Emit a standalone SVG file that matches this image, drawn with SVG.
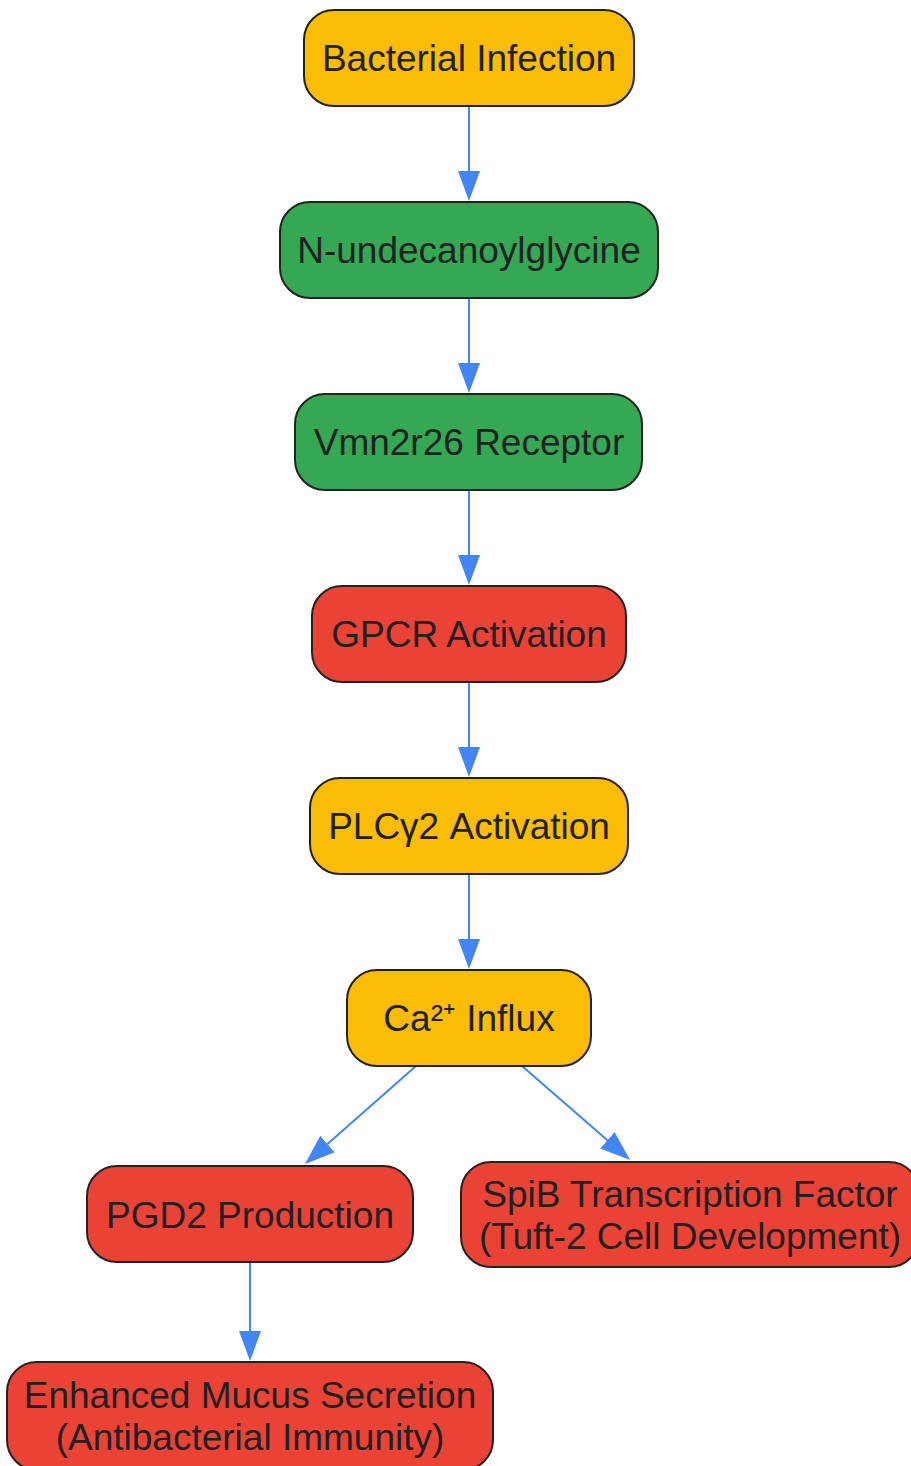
<svg xmlns="http://www.w3.org/2000/svg" width="911" height="1466" viewBox="0 0 911 1466">
<defs>
<style>
.n{stroke:#222222;stroke-width:2}
.y{fill:#FBBC05}
.g{fill:#34A853}
.r{fill:#EA4335}
.t{font-family:"Liberation Sans",Arial,sans-serif;font-size:37px;fill:#202124;text-anchor:middle}
.e{stroke:#4285F4;stroke-width:2;fill:none}
</style>
<marker id="ah" markerUnits="userSpaceOnUse" markerWidth="30" markerHeight="22" refX="0" refY="11" orient="auto" viewBox="0 0 30 22">
<path d="M0,0 L30,11 L0,22 z" fill="#4285F4"/>
</marker>
</defs>
<rect width="911" height="1466" fill="#ffffff"/>
<g id="edges">
<line class="e" x1="469" y1="106" x2="469" y2="171" marker-end="url(#ah)"/>
<line class="e" x1="469" y1="298" x2="469" y2="363" marker-end="url(#ah)"/>
<line class="e" x1="469" y1="490" x2="469" y2="555" marker-end="url(#ah)"/>
<line class="e" x1="469" y1="682" x2="469" y2="747" marker-end="url(#ah)"/>
<line class="e" x1="469" y1="874" x2="469" y2="939" marker-end="url(#ah)"/>
<line class="e" x1="416" y1="1066" x2="327.5" y2="1144.1" marker-end="url(#ah)"/>
<line class="e" x1="522" y1="1066" x2="607.4" y2="1140.3" marker-end="url(#ah)"/>
<line class="e" x1="250" y1="1262" x2="250" y2="1331" marker-end="url(#ah)"/>
</g>
<g id="bacterial">
<rect class="n y" x="304" y="10" width="330" height="96" rx="30"/>
<text class="t" x="469" y="71">Bacterial Infection</text>
</g>
<g id="undecanoyl">
<rect class="n g" x="280" y="202" width="378" height="96" rx="30"/>
<text class="t" x="469" y="263">N-undecanoylglycine</text>
</g>
<g id="vmn2r26">
<rect class="n g" x="295" y="394" width="347" height="96" rx="30"/>
<text class="t" x="469" y="455">Vmn2r26 Receptor</text>
</g>
<g id="gpcr">
<rect class="n r" x="312" y="586" width="314" height="96" rx="30"/>
<text class="t" x="469" y="647">GPCR Activation</text>
</g>
<g id="plc">
<rect class="n y" x="310" y="778" width="318" height="96" rx="30"/>
<text class="t" x="469" y="839">PLCγ2 Activation</text>
</g>
<g id="ca">
<rect class="n y" x="347" y="970" width="244" height="96" rx="30"/>
<text class="t" x="469" y="1031">Ca²⁺ Influx</text>
</g>
<g id="pgd2">
<rect class="n r" x="87" y="1166" width="326" height="96" rx="30"/>
<text class="t" x="250" y="1228">PGD2 Production</text>
</g>
<g id="spib">
<rect class="n r" x="461" y="1162" width="458" height="105" rx="30"/>
<text class="t" x="690" y="1207">SpiB Transcription Factor</text>
<text class="t" x="690" y="1249">(Tuft-2 Cell Development)</text>
</g>
<g id="mucus">
<rect class="n r" x="7" y="1362" width="486" height="108" rx="30"/>
<text class="t" x="250" y="1408">Enhanced Mucus Secretion</text>
<text class="t" x="250" y="1450">(Antibacterial Immunity)</text>
</g>
</svg>
